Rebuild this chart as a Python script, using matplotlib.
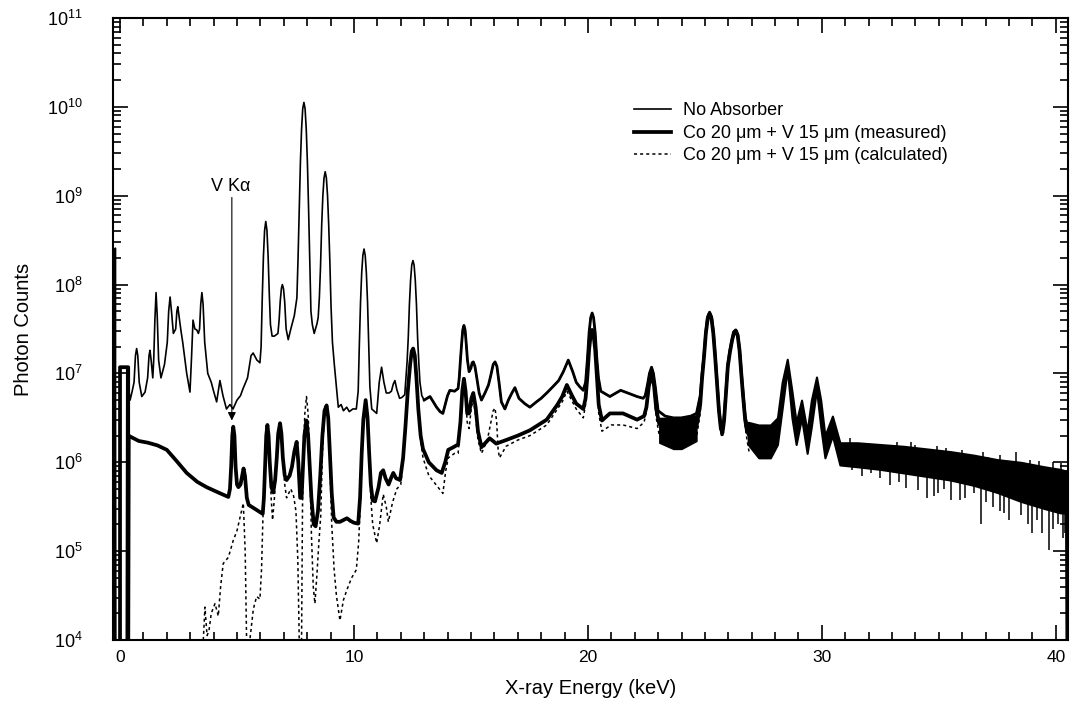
import matplotlib
matplotlib.use("Agg")
import matplotlib.pyplot as plt
import numpy as np
from matplotlib.ticker import FixedLocator, MultipleLocator, LogLocator, NullFormatter

plt.rcParams['font.family'] = ['Liberation Sans', 'DejaVu Sans']
plt.rcParams['mathtext.default'] = 'regular'

# (energy keV, log10 photon counts)
no_absorber = [
    (-0.22, 4.0), (-0.2, 8.41), (-0.18, 4.0), (0.27, 4.0), (0.29, 7.07), (0.36, 6.85),
    (0.43, 6.7), (0.52, 6.8), (0.6, 6.9), (0.66, 7.2), (0.71, 7.28), (0.76, 7.2), (0.82, 6.9),
    (0.93, 6.74), (1.07, 6.79), (1.18, 6.95), (1.24, 7.2), (1.28, 7.26), (1.33, 7.15),
    (1.4, 6.95), (1.44, 7.15), (1.49, 7.6), (1.54, 7.91), (1.59, 7.65), (1.65, 7.15),
    (1.75, 6.95), (1.9, 7.1), (2.02, 7.35), (2.08, 7.7), (2.14, 7.86), (2.2, 7.7),
    (2.28, 7.45), (2.38, 7.5), (2.43, 7.7), (2.47, 7.75), (2.52, 7.65), (2.6, 7.49),
    (2.68, 7.35), (2.85, 7.0), (2.99, 6.79), (3.06, 7.2), (3.12, 7.6), (3.2, 7.5),
    (3.28, 7.49), (3.35, 7.45), (3.4, 7.5), (3.45, 7.78), (3.5, 7.91), (3.55, 7.78),
    (3.62, 7.35), (3.75, 7.0), (3.9, 6.9), (4.0, 6.8), (4.13, 6.68), (4.2, 6.8), (4.27, 6.92),
    (4.4, 6.75), (4.55, 6.6), (4.7, 6.65), (4.83, 6.6), (5.0, 6.7), (5.15, 6.75), (5.26, 6.83),
    (5.45, 6.95), (5.6, 7.2), (5.69, 7.23), (5.85, 7.15), (5.98, 7.12), (6.03, 7.3),
    (6.08, 7.85), (6.13, 8.32), (6.18, 8.61), (6.23, 8.71), (6.28, 8.61), (6.33, 8.32),
    (6.38, 7.9), (6.43, 7.55), (6.5, 7.42), (6.6, 7.42), (6.75, 7.45), (6.8, 7.6),
    (6.85, 7.82), (6.9, 7.96), (6.94, 8.0), (6.99, 7.95), (7.04, 7.8), (7.1, 7.5),
    (7.19, 7.38), (7.3, 7.5), (7.45, 7.65), (7.56, 7.85), (7.61, 8.3), (7.66, 8.85),
    (7.71, 9.37), (7.76, 9.75), (7.81, 9.98), (7.86, 10.05), (7.91, 9.98), (7.96, 9.75),
    (8.01, 9.37), (8.06, 8.85), (8.11, 8.25), (8.16, 7.7), (8.22, 7.55), (8.3, 7.45),
    (8.42, 7.56), (8.47, 7.63), (8.52, 7.85), (8.57, 8.2), (8.62, 8.67), (8.67, 9.0),
    (8.72, 9.2), (8.77, 9.27), (8.82, 9.2), (8.87, 9.0), (8.92, 8.67), (8.97, 8.25),
    (9.02, 7.75), (9.08, 7.35), (9.16, 7.1), (9.25, 6.85), (9.33, 6.62), (9.45, 6.65),
    (9.55, 6.58), (9.69, 6.62), (9.8, 6.57), (9.95, 6.6), (10.1, 6.6), (10.18, 6.8),
    (10.23, 7.33), (10.28, 7.8), (10.33, 8.13), (10.38, 8.33), (10.43, 8.4), (10.48, 8.33),
    (10.53, 8.13), (10.58, 7.8), (10.63, 7.33), (10.68, 6.85), (10.76, 6.6), (10.97, 6.55),
    (11.08, 6.9), (11.18, 7.07), (11.28, 6.9), (11.38, 6.78), (11.5, 6.78), (11.6, 6.8),
    (11.68, 6.88), (11.75, 6.92), (11.83, 6.82), (11.95, 6.72), (12.05, 6.73), (12.17, 6.76),
    (12.22, 6.95), (12.27, 7.13), (12.32, 7.4), (12.37, 7.78), (12.42, 8.05), (12.47, 8.22),
    (12.52, 8.27), (12.57, 8.22), (12.62, 8.05), (12.67, 7.78), (12.72, 7.4), (12.77, 7.13),
    (12.82, 6.9), (12.9, 6.75), (13.0, 6.7), (13.25, 6.74), (13.53, 6.62), (13.68, 6.57),
    (13.8, 6.55), (14.0, 6.75), (14.1, 6.81), (14.3, 6.8), (14.45, 6.83), (14.5, 6.95),
    (14.55, 7.15), (14.6, 7.33), (14.65, 7.49), (14.7, 7.54), (14.75, 7.49), (14.8, 7.33),
    (14.85, 7.15), (14.92, 7.02), (15.0, 7.06), (15.05, 7.12), (15.1, 7.13), (15.17, 7.08),
    (15.25, 6.95), (15.35, 6.78), (15.45, 6.7), (15.6, 6.78), (15.75, 6.87), (15.85, 6.98),
    (15.95, 7.1), (16.03, 7.13), (16.11, 7.08), (16.2, 6.9), (16.3, 6.68), (16.45, 6.6),
    (16.6, 6.7), (16.75, 6.78), (16.88, 6.84), (17.05, 6.72), (17.3, 6.66), (17.52, 6.62),
    (17.8, 6.68), (18.0, 6.72), (18.24, 6.78), (18.5, 6.85), (18.75, 6.92), (18.95, 7.02),
    (19.16, 7.15), (19.35, 7.02), (19.5, 6.9), (19.65, 6.85), (19.8, 6.81), (19.9, 6.9),
    (19.98, 7.17), (20.05, 7.46), (20.12, 7.63), (20.18, 7.68), (20.24, 7.63), (20.31, 7.46),
    (20.38, 7.17), (20.45, 6.95), (20.55, 6.8), (20.94, 6.74), (21.2, 6.78), (21.4, 6.81),
    (21.7, 6.78), (22.1, 6.74), (22.36, 6.72), (22.45, 6.75), (22.55, 6.88), (22.63, 7.0),
    (22.72, 7.07), (22.8, 7.0), (22.88, 6.85), (23.0, 6.58), (23.3, 6.52), (23.65, 6.5),
    (24.0, 6.5), (24.4, 6.52), (24.64, 6.55), (24.8, 6.75), (24.88, 7.0), (24.96, 7.2),
    (25.04, 7.47), (25.12, 7.64), (25.2, 7.69), (25.28, 7.64), (25.36, 7.47), (25.44, 7.2),
    (25.52, 6.9), (25.6, 6.6), (25.68, 6.42), (25.75, 6.36), (25.82, 6.5), (25.9, 6.8),
    (25.98, 7.1), (26.07, 7.26), (26.16, 7.38), (26.24, 7.47), (26.32, 7.49), (26.4, 7.44),
    (26.48, 7.27), (26.56, 7.0), (26.64, 6.75), (26.72, 6.52), (26.8, 6.42), (26.9, 6.4),
]

measured = [
    (0.0, 4.0), (0.0, 7.07), (0.35, 7.07), (0.35, 4.0), (0.37, 6.3), (0.43, 6.29), (0.8, 6.24),
    (1.2, 6.22), (1.6, 6.19), (2.0, 6.14), (2.4, 6.02), (2.85, 5.88), (3.3, 5.78), (3.7, 5.72),
    (4.2, 5.66), (4.63, 5.61), (4.7, 5.7), (4.75, 5.95), (4.8, 6.3), (4.84, 6.4), (4.89, 6.3),
    (4.94, 5.95), (5.0, 5.75), (5.06, 5.72), (5.15, 5.75), (5.22, 5.85), (5.28, 5.93),
    (5.34, 5.85), (5.42, 5.6), (5.5, 5.52), (5.8, 5.47), (6.1, 5.42), (6.15, 5.6), (6.2, 5.95),
    (6.25, 6.3), (6.3, 6.42), (6.35, 6.3), (6.4, 6.0), (6.47, 5.72), (6.55, 5.66), (6.63, 5.8),
    (6.7, 6.05), (6.76, 6.32), (6.84, 6.44), (6.9, 6.32), (6.96, 6.05), (7.04, 5.85),
    (7.12, 5.8), (7.25, 5.85), (7.35, 5.95), (7.45, 6.12), (7.55, 6.23), (7.62, 6.0),
    (7.7, 5.6), (7.76, 5.6), (7.82, 5.95), (7.88, 6.3), (7.97, 6.47), (8.04, 6.3), (8.1, 6.0),
    (8.18, 5.6), (8.28, 5.3), (8.36, 5.28), (8.46, 5.45), (8.56, 5.85), (8.65, 6.3),
    (8.74, 6.58), (8.83, 6.64), (8.9, 6.5), (8.97, 6.1), (9.05, 5.65), (9.13, 5.38),
    (9.25, 5.33), (9.4, 5.33), (9.55, 5.35), (9.7, 5.37), (9.85, 5.34), (10.0, 5.32),
    (10.18, 5.31), (10.26, 5.6), (10.33, 6.1), (10.4, 6.48), (10.5, 6.7), (10.58, 6.5),
    (10.65, 6.1), (10.72, 5.75), (10.8, 5.57), (10.9, 5.56), (11.05, 5.72), (11.15, 5.88),
    (11.25, 5.91), (11.35, 5.82), (11.48, 5.75), (11.58, 5.82), (11.68, 5.88), (11.8, 5.82),
    (11.97, 5.8), (12.1, 6.05), (12.2, 6.4), (12.3, 6.8), (12.4, 7.1), (12.47, 7.25),
    (12.53, 7.28), (12.6, 7.2), (12.67, 6.95), (12.75, 6.6), (12.85, 6.3), (12.95, 6.15),
    (13.2, 6.0), (13.53, 5.91), (13.75, 5.88), (13.9, 6.0), (14.03, 6.14), (14.25, 6.17),
    (14.45, 6.2), (14.55, 6.45), (14.63, 6.8), (14.7, 6.94), (14.77, 6.8), (14.84, 6.55),
    (14.92, 6.55), (15.02, 6.72), (15.1, 6.78), (15.2, 6.62), (15.3, 6.35), (15.45, 6.17),
    (15.8, 6.27), (16.08, 6.21), (16.5, 6.25), (17.0, 6.3), (17.52, 6.36), (18.24, 6.48),
    (18.7, 6.65), (18.9, 6.74), (19.1, 6.87), (19.3, 6.76), (19.5, 6.66), (19.8, 6.6),
    (19.9, 6.72), (19.98, 6.98), (20.05, 7.27), (20.12, 7.44), (20.18, 7.49), (20.24, 7.44),
    (20.31, 7.27), (20.38, 6.98), (20.46, 6.65), (20.6, 6.47), (20.94, 6.55), (21.5, 6.55),
    (22.1, 6.48), (22.4, 6.52), (22.5, 6.62), (22.6, 6.85), (22.72, 7.0), (22.82, 6.88),
    (22.92, 6.6), (23.05, 6.43), (23.65, 6.35), (24.0, 6.35), (24.64, 6.4), (24.8, 6.65),
    (24.88, 6.95), (24.96, 7.18), (25.04, 7.45), (25.12, 7.62), (25.2, 7.67), (25.28, 7.62),
    (25.36, 7.45), (25.44, 7.18), (25.52, 6.88), (25.6, 6.58), (25.68, 6.38), (25.75, 6.33),
    (25.82, 6.47), (25.9, 6.78), (25.98, 7.08), (26.07, 7.24), (26.16, 7.37), (26.24, 7.46),
    (26.32, 7.48), (26.4, 7.43), (26.48, 7.26), (26.56, 6.98), (26.64, 6.72), (26.72, 6.48),
    (26.8, 6.35), (26.9, 6.3),
]

calculated = [
    (3.56, 4.0), (3.63, 4.37), (3.72, 4.05), (3.8, 4.1), (3.9, 4.3), (4.06, 4.41), (4.2, 4.27),
    (4.3, 4.6), (4.41, 4.86), (4.63, 4.93), (4.84, 5.12), (5.0, 5.23), (5.15, 5.4),
    (5.27, 5.54), (5.35, 5.0), (5.41, 4.0), (5.55, 4.0), (5.7, 4.35), (5.84, 4.49),
    (5.98, 4.46), (6.05, 4.8), (6.1, 5.3), (6.15, 5.7), (6.2, 6.0), (6.25, 6.3), (6.3, 6.42),
    (6.35, 6.3), (6.4, 6.0), (6.46, 5.6), (6.52, 5.35), (6.6, 5.6), (6.7, 6.05), (6.76, 6.32),
    (6.84, 6.42), (6.9, 6.3), (6.96, 6.0), (7.04, 5.75), (7.12, 5.6), (7.3, 5.7), (7.42, 5.62),
    (7.52, 5.45), (7.6, 4.9), (7.66, 4.0), (7.76, 4.0), (7.8, 5.5), (7.85, 6.2), (7.9, 6.55),
    (7.97, 6.74), (8.04, 6.55), (8.1, 6.1), (8.18, 5.2), (8.26, 4.6), (8.33, 4.41),
    (8.42, 4.75), (8.5, 5.1), (8.58, 5.4), (8.65, 6.1), (8.74, 6.55), (8.83, 6.64), (8.9, 6.5),
    (8.97, 6.0), (9.05, 5.3), (9.15, 4.8), (9.25, 4.5), (9.4, 4.22), (9.55, 4.45),
    (9.69, 4.56), (9.9, 4.7), (10.1, 4.79), (10.2, 5.1), (10.28, 5.6), (10.35, 6.1),
    (10.42, 6.5), (10.5, 6.7), (10.58, 6.5), (10.65, 6.05), (10.72, 5.6), (10.8, 5.3),
    (10.97, 5.09), (11.1, 5.3), (11.25, 5.64), (11.38, 5.5), (11.47, 5.33), (11.65, 5.55),
    (11.83, 5.7), (12.0, 5.75), (12.1, 6.0), (12.2, 6.35), (12.3, 6.75), (12.4, 7.05),
    (12.47, 7.22), (12.53, 7.25), (12.6, 7.17), (12.67, 6.92), (12.75, 6.55), (12.85, 6.25),
    (12.95, 6.05), (13.2, 5.85), (13.5, 5.75), (13.8, 5.65), (13.92, 5.9), (14.03, 6.05),
    (14.3, 6.1), (14.45, 6.1), (14.55, 6.4), (14.63, 6.75), (14.7, 6.9), (14.77, 6.75),
    (14.84, 6.45), (14.92, 6.38), (15.02, 6.62), (15.1, 6.7), (15.2, 6.52), (15.3, 6.25),
    (15.45, 6.1), (15.7, 6.25), (15.85, 6.45), (15.95, 6.58), (16.03, 6.61), (16.1, 6.45),
    (16.16, 6.15), (16.22, 6.05), (16.5, 6.18), (17.0, 6.25), (17.52, 6.3), (18.24, 6.42),
    (18.9, 6.68), (19.1, 6.8), (19.5, 6.6), (19.8, 6.5), (19.9, 6.65), (19.98, 6.93),
    (20.05, 7.22), (20.12, 7.4), (20.18, 7.45), (20.24, 7.4), (20.31, 7.22), (20.38, 6.93),
    (20.46, 6.55), (20.6, 6.35), (21.0, 6.42), (21.5, 6.42), (22.1, 6.38), (22.4, 6.45),
    (22.5, 6.57), (22.6, 6.8), (22.72, 6.95), (22.82, 6.82), (22.92, 6.5), (23.05, 6.3),
    (23.65, 6.2), (24.0, 6.2), (24.64, 6.28), (24.8, 6.55), (24.88, 6.9), (24.96, 7.14),
    (25.04, 7.42), (25.12, 7.6), (25.2, 7.65), (25.28, 7.6), (25.36, 7.42), (25.44, 7.14),
    (25.52, 6.83), (25.6, 6.52), (25.68, 6.32), (25.75, 6.28), (25.82, 6.42), (25.9, 6.72),
    (25.98, 7.03), (26.07, 7.2), (26.16, 7.34), (26.24, 7.43), (26.32, 7.45), (26.4, 7.4),
    (26.48, 7.22), (26.56, 6.92), (26.64, 6.65), (26.72, 6.4), (26.8, 6.25), (26.9, 6.1),
]

# 23-24.6 keV: the three noisy traces merge into one dark band
mid_e = [23.05, 23.65, 24.0, 24.64]
mid_hi = [6.5, 6.5, 6.5, 6.53]
mid_lo = [6.22, 6.15, 6.15, 6.24]

# high-energy part where the three spectra overlap: noisy band (upper / lower edge)
tail_e = [26.85, 27.3, 27.8, 28.1, 28.3, 28.52, 28.72, 28.9, 29.13, 29.37, 29.55, 29.77,
          29.95, 30.13, 30.45, 30.77, 31.5, 32.5, 33.5, 34.5, 35.5, 36.5, 37.5, 38.5, 39.5,
          40.2, 40.45]
tail_hi = [6.45, 6.42, 6.42, 6.5, 6.9, 7.16, 6.8, 6.45, 6.7, 6.35, 6.7, 6.96, 6.7, 6.3,
           6.52, 6.22, 6.22, 6.2, 6.18, 6.15, 6.12, 6.08, 6.03, 6.0, 5.95, 5.92, 5.9]
tail_lo = [6.2, 6.05, 6.05, 6.2, 6.6, 7.05, 6.5, 6.2, 6.5, 6.1, 6.4, 6.82, 6.4, 6.05, 6.3,
           5.97, 5.95, 5.92, 5.88, 5.84, 5.8, 5.74, 5.66, 5.56, 5.48, 5.43, 5.43]
# single-channel spikes leaving the band: energy, start, end (log10 counts)
spike_e = [31.3, 32.1, 32.9, 33.6, 34.1, 34.5, 34.96, 35.5, 35.9, 36.5, 36.8, 37.3, 37.8,
           38.5, 39.0, 39.4, 39.7, 40.1, 40.4,
           31.7, 32.5, 33.3, 34.8, 35.2, 36.1, 37.0, 37.6, 38.0, 38.8, 39.2, 39.9, 40.3,
           31.2, 33.2, 33.8, 35.3, 37.1, 38.3, 39.6, 40.2,
           31.9, 32.6, 34.0, 34.9, 36.0, 36.9, 37.6, 38.9, 39.3, 39.9]
spike_a = [6.05, 6.05, 6.0, 6.0, 5.98, 5.95, 5.95, 5.9, 5.9, 5.88, 5.85, 5.82, 5.8,
           5.75, 5.7, 5.68, 5.66, 5.62, 5.6,
           6.0, 5.98, 5.95, 5.9, 5.88, 5.85, 5.8, 5.75, 5.72, 5.68, 5.65, 5.6, 5.55,
           6.1, 6.05, 6.05, 6.0, 5.95, 5.9, 5.8, 5.8,
           6.1, 6.08, 6.05, 6.0, 5.98, 5.95, 5.9, 5.85, 5.85, 5.82]
spike_b = [5.91, 5.88, 5.74, 5.71, 5.69, 5.6, 5.65, 5.57, 5.57, 5.65, 5.31, 5.5, 5.43,
           5.41, 5.2, 5.2, 5.01, 5.31, 5.2,
           5.85, 5.82, 5.78, 5.62, 5.7, 5.6, 5.55, 5.45, 5.35, 5.3, 5.35, 5.25, 5.15,
           6.27, 6.23, 6.23, 6.16, 6.06, 6.12, 5.91, 5.99,
           6.22, 6.2, 6.2, 6.18, 6.14, 6.12, 6.08, 6.03, 6.02, 6.0]
end_e = [40.45, 40.47]
end_log = [5.6, 4.0]

labels = ['No Absorber',
          'Co 20 \u03bcm + V 15 \u03bcm (measured)',
          'Co 20 \u03bcm + V 15 \u03bcm (calculated)']

def counts(v):
    return 10.0 ** np.asarray(v)

na_e, na_log = np.array(no_absorber).T
me_e, me_log = np.array(measured).T
ca_e, ca_log = np.array(calculated).T

fig = plt.figure(figsize=(10.72, 7.07), dpi=100)
ax = fig.add_axes([113 / 1072, 67 / 707, 955 / 1072, 622 / 707])

l1, = ax.plot(na_e, counts(na_log), color='black', lw=1.2, label=labels[0])
# counting noise makes the trace look heavier above ~13 keV
hi = na_e >= 13
ax.plot(na_e[hi], counts(na_log[hi]), color='black', lw=2.0)
l2, = ax.plot(me_e, counts(me_log), color='black', lw=2.7, label=labels[1])
l3, = ax.plot(ca_e, counts(ca_log), color='black', lw=1.1, ls=(0, (2, 2)), label=labels[2])

ax.fill_between(mid_e, counts(mid_lo), counts(mid_hi), color='black', lw=1.0)
ax.fill_between(tail_e, counts(tail_lo), counts(tail_hi), color='black', lw=1.5,
                edgecolor='black')
ax.vlines(spike_e, counts(spike_a), counts(spike_b), color='black', lw=1.1)
ax.plot(end_e, counts(end_log), color='black', lw=2.0)

ax.set_yscale('log')
ax.set_xlim(-0.3, 40.52)
ax.set_ylim(1e4, 1e11)

ax.xaxis.set_major_locator(FixedLocator([0, 10, 20, 30, 40]))
ax.xaxis.set_minor_locator(MultipleLocator(1))
ax.yaxis.set_minor_locator(LogLocator(base=10, subs=np.arange(2, 10), numticks=20))
ax.yaxis.set_minor_formatter(NullFormatter())
ax.set_yticks([10.0 ** k for k in range(4, 12)])
ax.set_yticklabels(['10$^{%d}$' % k for k in range(4, 12)], fontsize=13)
ax.tick_params(axis='x', labelsize=12.5)
ax.tick_params(which='both', direction='in', top=True, right=True, width=1.2)
ax.tick_params(which='major', length=11, pad=7)
ax.tick_params(which='minor', length=6)
ax.tick_params(axis='y', which='major', pad=22)
for s in ax.spines.values():
    s.set_linewidth(1.5)

ax.set_xlabel('X-ray Energy (keV)', fontsize=14.5, labelpad=10)
ax.set_ylabel('Photon Counts', fontsize=14.5, labelpad=10)

ax.annotate('', xy=(4.78, counts(6.47)), xytext=(4.78, counts(8.98)),
            arrowprops=dict(arrowstyle='-|>', color='black', lw=0.8,
                            mutation_scale=12, shrinkA=0, shrinkB=0))
ax.text(4.75, counts(9.1), 'V K\u03b1', fontsize=13, ha='center', va='center')

ax.legend(handles=[l1, l2, l3], loc='upper left', bbox_to_anchor=(620 / 1072, 1 - 88 / 707),
          bbox_transform=fig.transFigure, frameon=False, fontsize=13,
          handlelength=2.0, handletextpad=0.7, labelspacing=0.3, borderpad=0.3)

fig.savefig('out.png', dpi=100)
